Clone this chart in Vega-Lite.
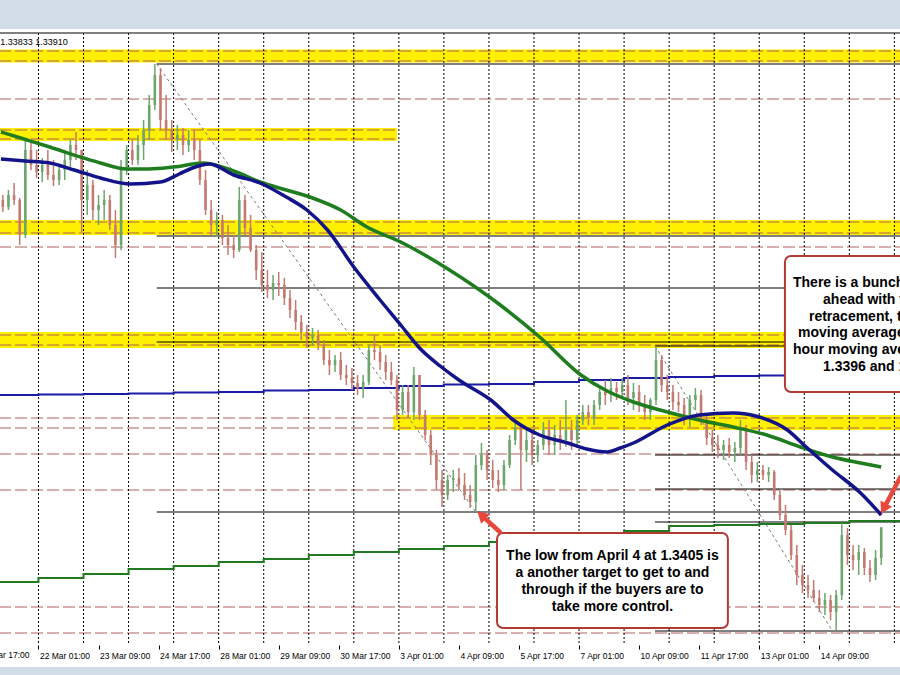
{
  "$schema": "https://vega.github.io/schema/vega-lite/v6.json",
  "width": 900,
  "height": 638,
  "autosize": {"type": "none"},
  "padding": {"left": 0, "right": 0, "top": 29, "bottom": 8},
  "background": "#d3dde9",
  "config": {"view": {"stroke": null, "fill": "#ffffff"}},
  "datasets": {
    "bars": [
      {"t":-19,"o":1.36858,"h":1.36903,"l":1.36750,"c":1.36795},
      {"t":-16,"o":1.36795,"h":1.36948,"l":1.36768,"c":1.36903},
      {"t":-13,"o":1.36903,"h":1.37011,"l":1.36813,"c":1.36858},
      {"t":-10,"o":1.36858,"h":1.36876,"l":1.36453,"c":1.36543},
      {"t":-7,"o":1.36543,"h":1.37398,"l":1.36516,"c":1.37308},
      {"t":-4,"o":1.37308,"h":1.37380,"l":1.37128,"c":1.37173},
      {"t":-1,"o":1.37173,"h":1.37308,"l":1.37056,"c":1.37110},
      {"t":2,"o":1.37110,"h":1.37236,"l":1.37020,"c":1.37173},
      {"t":5,"o":1.37173,"h":1.37308,"l":1.37038,"c":1.37083},
      {"t":8,"o":1.37083,"h":1.37218,"l":1.36984,"c":1.37038},
      {"t":11,"o":1.37038,"h":1.37173,"l":1.36993,"c":1.37128},
      {"t":14,"o":1.37128,"h":1.37308,"l":1.37038,"c":1.37218},
      {"t":17,"o":1.37218,"h":1.37398,"l":1.37128,"c":1.37353},
      {"t":20,"o":1.37353,"h":1.37470,"l":1.37218,"c":1.37308},
      {"t":23,"o":1.37308,"h":1.37308,"l":1.36570,"c":1.36858},
      {"t":26,"o":1.36858,"h":1.37128,"l":1.36723,"c":1.36993},
      {"t":29,"o":1.36993,"h":1.37038,"l":1.36678,"c":1.36768},
      {"t":32,"o":1.36768,"h":1.36903,"l":1.36633,"c":1.36813},
      {"t":35,"o":1.36813,"h":1.36948,"l":1.36678,"c":1.36858},
      {"t":38,"o":1.36858,"h":1.36903,"l":1.36588,"c":1.36633},
      {"t":41,"o":1.36633,"h":1.36768,"l":1.36336,"c":1.36453},
      {"t":44,"o":1.36453,"h":1.37218,"l":1.36408,"c":1.37128},
      {"t":47,"o":1.37128,"h":1.37353,"l":1.37083,"c":1.37308},
      {"t":50,"o":1.37308,"h":1.37398,"l":1.37173,"c":1.37218},
      {"t":53,"o":1.37218,"h":1.37443,"l":1.37173,"c":1.37353},
      {"t":56,"o":1.37353,"h":1.37578,"l":1.37218,"c":1.37488},
      {"t":59,"o":1.37488,"h":1.37803,"l":1.37398,"c":1.37713},
      {"t":62,"o":1.37713,"h":1.38082,"l":1.37668,"c":1.37983},
      {"t":65,"o":1.37983,"h":1.38046,"l":1.37488,"c":1.37578},
      {"t":68,"o":1.37578,"h":1.37803,"l":1.37398,"c":1.37488},
      {"t":71,"o":1.37488,"h":1.37578,"l":1.37290,"c":1.37398},
      {"t":74,"o":1.37398,"h":1.37533,"l":1.37308,"c":1.37443},
      {"t":77,"o":1.37443,"h":1.37506,"l":1.37263,"c":1.37353},
      {"t":80,"o":1.37353,"h":1.37488,"l":1.37290,"c":1.37398},
      {"t":83,"o":1.37398,"h":1.37488,"l":1.37218,"c":1.37308},
      {"t":86,"o":1.37308,"h":1.37398,"l":1.36993,"c":1.37038},
      {"t":89,"o":1.37038,"h":1.37128,"l":1.36723,"c":1.36768},
      {"t":92,"o":1.36768,"h":1.36858,"l":1.36543,"c":1.36633},
      {"t":95,"o":1.36633,"h":1.36750,"l":1.36525,"c":1.36678},
      {"t":98,"o":1.36678,"h":1.36723,"l":1.36453,"c":1.36516},
      {"t":101,"o":1.36516,"h":1.36633,"l":1.36363,"c":1.36453},
      {"t":104,"o":1.36453,"h":1.36543,"l":1.36336,"c":1.36408},
      {"t":107,"o":1.36408,"h":1.36975,"l":1.36390,"c":1.36858},
      {"t":110,"o":1.36858,"h":1.36903,"l":1.36543,"c":1.36606},
      {"t":113,"o":1.36606,"h":1.36723,"l":1.36390,"c":1.36408},
      {"t":116,"o":1.36408,"h":1.36453,"l":1.36138,"c":1.36228},
      {"t":119,"o":1.36228,"h":1.36390,"l":1.36030,"c":1.36093},
      {"t":122,"o":1.36093,"h":1.36228,"l":1.35976,"c":1.36048},
      {"t":125,"o":1.36048,"h":1.36183,"l":1.35958,"c":1.36111},
      {"t":128,"o":1.36111,"h":1.36210,"l":1.35994,"c":1.36093},
      {"t":131,"o":1.36093,"h":1.36156,"l":1.35913,"c":1.35976},
      {"t":134,"o":1.35976,"h":1.36048,"l":1.35796,"c":1.35868},
      {"t":137,"o":1.35868,"h":1.35958,"l":1.35688,"c":1.35760},
      {"t":140,"o":1.35760,"h":1.35823,"l":1.35598,"c":1.35670},
      {"t":143,"o":1.35670,"h":1.35733,"l":1.35526,"c":1.35616},
      {"t":146,"o":1.35616,"h":1.35706,"l":1.35544,"c":1.35643},
      {"t":149,"o":1.35643,"h":1.35688,"l":1.35508,"c":1.35553},
      {"t":152,"o":1.35553,"h":1.35598,"l":1.35373,"c":1.35418},
      {"t":155,"o":1.35418,"h":1.35508,"l":1.35283,"c":1.35373},
      {"t":158,"o":1.35373,"h":1.35463,"l":1.35310,"c":1.35418},
      {"t":161,"o":1.35418,"h":1.35490,"l":1.35238,"c":1.35283},
      {"t":164,"o":1.35283,"h":1.35373,"l":1.35193,"c":1.35256},
      {"t":167,"o":1.35256,"h":1.35346,"l":1.35148,"c":1.35211},
      {"t":170,"o":1.35211,"h":1.35283,"l":1.35103,"c":1.35166},
      {"t":173,"o":1.35166,"h":1.35283,"l":1.35076,"c":1.35220},
      {"t":176,"o":1.35220,"h":1.35553,"l":1.35193,"c":1.35508},
      {"t":179,"o":1.35508,"h":1.35643,"l":1.35418,"c":1.35490},
      {"t":182,"o":1.35490,"h":1.35553,"l":1.35328,"c":1.35400},
      {"t":185,"o":1.35400,"h":1.35463,"l":1.35238,"c":1.35310},
      {"t":188,"o":1.35310,"h":1.35400,"l":1.35193,"c":1.35238},
      {"t":191,"o":1.35238,"h":1.35283,"l":1.34878,"c":1.34968},
      {"t":194,"o":1.34968,"h":1.35193,"l":1.34923,"c":1.35130},
      {"t":197,"o":1.35130,"h":1.35193,"l":1.34896,"c":1.34950},
      {"t":200,"o":1.34950,"h":1.35355,"l":1.34878,"c":1.35283},
      {"t":203,"o":1.35283,"h":1.35283,"l":1.34878,"c":1.34923},
      {"t":206,"o":1.34923,"h":1.34968,"l":1.34698,"c":1.34743},
      {"t":209,"o":1.34743,"h":1.34788,"l":1.34473,"c":1.34563},
      {"t":212,"o":1.34563,"h":1.34608,"l":1.34248,"c":1.34338},
      {"t":215,"o":1.34338,"h":1.34428,"l":1.34095,"c":1.34203},
      {"t":218,"o":1.34203,"h":1.34383,"l":1.34158,"c":1.34338},
      {"t":221,"o":1.34338,"h":1.34428,"l":1.34230,"c":1.34356},
      {"t":224,"o":1.34356,"h":1.34446,"l":1.34248,"c":1.34293},
      {"t":227,"o":1.34293,"h":1.34401,"l":1.34158,"c":1.34203},
      {"t":230,"o":1.34203,"h":1.34293,"l":1.34086,"c":1.34140},
      {"t":233,"o":1.34140,"h":1.34563,"l":1.34050,"c":1.34473},
      {"t":236,"o":1.34473,"h":1.34671,"l":1.34428,"c":1.34563},
      {"t":239,"o":1.34563,"h":1.34608,"l":1.34338,"c":1.34428},
      {"t":242,"o":1.34428,"h":1.34518,"l":1.34266,"c":1.34338},
      {"t":245,"o":1.34338,"h":1.34428,"l":1.34230,"c":1.34293},
      {"t":248,"o":1.34293,"h":1.34518,"l":1.34248,"c":1.34473},
      {"t":251,"o":1.34473,"h":1.34743,"l":1.34446,"c":1.34698},
      {"t":254,"o":1.34698,"h":1.34860,"l":1.34653,"c":1.34806},
      {"t":257,"o":1.34806,"h":1.34833,"l":1.34248,"c":1.34608},
      {"t":260,"o":1.34608,"h":1.34788,"l":1.34500,"c":1.34698},
      {"t":263,"o":1.34698,"h":1.34788,"l":1.34473,"c":1.34563},
      {"t":266,"o":1.34563,"h":1.34698,"l":1.34500,"c":1.34653},
      {"t":269,"o":1.34653,"h":1.34860,"l":1.34608,"c":1.34788},
      {"t":272,"o":1.34788,"h":1.34878,"l":1.34563,"c":1.34653},
      {"t":275,"o":1.34653,"h":1.34833,"l":1.34563,"c":1.34743},
      {"t":278,"o":1.34743,"h":1.34878,"l":1.34608,"c":1.34698},
      {"t":281,"o":1.34698,"h":1.35058,"l":1.34635,"c":1.34788},
      {"t":284,"o":1.34788,"h":1.34878,"l":1.34608,"c":1.34698},
      {"t":287,"o":1.34698,"h":1.34923,"l":1.34626,"c":1.34878},
      {"t":290,"o":1.34878,"h":1.35013,"l":1.34833,"c":1.34950},
      {"t":293,"o":1.34950,"h":1.35013,"l":1.34833,"c":1.34896},
      {"t":296,"o":1.34896,"h":1.35058,"l":1.34833,"c":1.35013},
      {"t":299,"o":1.35013,"h":1.35193,"l":1.34968,"c":1.35130},
      {"t":302,"o":1.35130,"h":1.35238,"l":1.35013,"c":1.35103},
      {"t":305,"o":1.35103,"h":1.35256,"l":1.35040,"c":1.35166},
      {"t":308,"o":1.35166,"h":1.35220,"l":1.35058,"c":1.35130},
      {"t":311,"o":1.35130,"h":1.35256,"l":1.35076,"c":1.35193},
      {"t":314,"o":1.35193,"h":1.35283,"l":1.35013,"c":1.35076},
      {"t":317,"o":1.35076,"h":1.35211,"l":1.34968,"c":1.35130},
      {"t":320,"o":1.35130,"h":1.35193,"l":1.34950,"c":1.35013},
      {"t":323,"o":1.35013,"h":1.35103,"l":1.34878,"c":1.34950},
      {"t":326,"o":1.34950,"h":1.35076,"l":1.34878,"c":1.35058},
      {"t":329,"o":1.35058,"h":1.35544,"l":1.35013,"c":1.35418},
      {"t":332,"o":1.35418,"h":1.35463,"l":1.35130,"c":1.35193},
      {"t":335,"o":1.35193,"h":1.35283,"l":1.35058,"c":1.35130},
      {"t":338,"o":1.35130,"h":1.35193,"l":1.34968,"c":1.35040},
      {"t":341,"o":1.35040,"h":1.35130,"l":1.34950,"c":1.35013},
      {"t":344,"o":1.35013,"h":1.35076,"l":1.34833,"c":1.34923},
      {"t":347,"o":1.34923,"h":1.35103,"l":1.34815,"c":1.35058},
      {"t":350,"o":1.35058,"h":1.35166,"l":1.34968,"c":1.35103},
      {"t":353,"o":1.35103,"h":1.35148,"l":1.34833,"c":1.34878},
      {"t":356,"o":1.34878,"h":1.34923,"l":1.34653,"c":1.34716},
      {"t":359,"o":1.34716,"h":1.34788,"l":1.34590,"c":1.34653},
      {"t":362,"o":1.34653,"h":1.34743,"l":1.34536,"c":1.34608},
      {"t":365,"o":1.34608,"h":1.34698,"l":1.34518,"c":1.34653},
      {"t":368,"o":1.34653,"h":1.34716,"l":1.34536,"c":1.34590},
      {"t":371,"o":1.34590,"h":1.34680,"l":1.34500,"c":1.34626},
      {"t":374,"o":1.34626,"h":1.34878,"l":1.34563,"c":1.34788},
      {"t":377,"o":1.34788,"h":1.34833,"l":1.34428,"c":1.34500},
      {"t":380,"o":1.34500,"h":1.34563,"l":1.34311,"c":1.34383},
      {"t":383,"o":1.34383,"h":1.34500,"l":1.34320,"c":1.34428},
      {"t":386,"o":1.34428,"h":1.34473,"l":1.34338,"c":1.34383},
      {"t":389,"o":1.34383,"h":1.34455,"l":1.34320,"c":1.34410},
      {"t":392,"o":1.34410,"h":1.34428,"l":1.34158,"c":1.34203},
      {"t":395,"o":1.34203,"h":1.34248,"l":1.33978,"c":1.34023},
      {"t":398,"o":1.34023,"h":1.34113,"l":1.33843,"c":1.33888},
      {"t":401,"o":1.33888,"h":1.33933,"l":1.33618,"c":1.33663},
      {"t":404,"o":1.33663,"h":1.33753,"l":1.33393,"c":1.33483},
      {"t":407,"o":1.33483,"h":1.33573,"l":1.33321,"c":1.33393},
      {"t":410,"o":1.33393,"h":1.33483,"l":1.33276,"c":1.33348},
      {"t":413,"o":1.33348,"h":1.33438,"l":1.33240,"c":1.33276},
      {"t":416,"o":1.33276,"h":1.33348,"l":1.33150,"c":1.33213},
      {"t":419,"o":1.33213,"h":1.33321,"l":1.33123,"c":1.33258},
      {"t":422,"o":1.33258,"h":1.33303,"l":1.33078,"c":1.33150},
      {"t":425,"o":1.33150,"h":1.33348,"l":1.32988,"c":1.33303},
      {"t":428,"o":1.33303,"h":1.33951,"l":1.33258,"c":1.33843},
      {"t":431,"o":1.33843,"h":1.33906,"l":1.33573,"c":1.33663},
      {"t":434,"o":1.33663,"h":1.33753,"l":1.33528,"c":1.33618},
      {"t":437,"o":1.33618,"h":1.33753,"l":1.33483,"c":1.33690},
      {"t":440,"o":1.33690,"h":1.33726,"l":1.33483,"c":1.33546},
      {"t":443,"o":1.33546,"h":1.33618,"l":1.33420,"c":1.33483},
      {"t":446,"o":1.33483,"h":1.33708,"l":1.33438,"c":1.33636},
      {"t":449,"o":1.33636,"h":1.33915,"l":1.33573,"c":1.33910}
    ],
    "ma100": [
      {"t":-20,"p":1.37227},{"t":-7,"p":1.37209},{"t":6,"p":1.37191},{"t":19,"p":1.37128},
      {"t":33,"p":1.37056},{"t":49,"p":1.37002},{"t":65,"p":1.37020},{"t":75,"p":1.37092},
      {"t":82,"p":1.37146},{"t":91,"p":1.37182},{"t":104,"p":1.37083},{"t":118,"p":1.37011},
      {"t":132,"p":1.36885},{"t":143,"p":1.36768},{"t":154,"p":1.36588},{"t":168,"p":1.36255},
      {"t":182,"p":1.35958},{"t":193,"p":1.35733},{"t":203,"p":1.35526},{"t":214,"p":1.35364},
      {"t":224,"p":1.35238},{"t":241,"p":1.35058},{"t":253,"p":1.34878},{"t":267,"p":1.34743},
      {"t":282,"p":1.34671},{"t":292,"p":1.34617},{"t":303,"p":1.34590},{"t":310,"p":1.34626},
      {"t":317,"p":1.34671},{"t":335,"p":1.34833},{"t":352,"p":1.34923},{"t":370,"p":1.34941},
      {"t":384,"p":1.34905},{"t":399,"p":1.34788},{"t":409,"p":1.34635},{"t":423,"p":1.34428},
      {"t":438,"p":1.34221},{"t":449,"p":1.34023}
    ],
    "ma200": [
      {"t":-20,"p":1.37470},{"t":-6,"p":1.37398},{"t":6,"p":1.37335},{"t":24,"p":1.37236},
      {"t":33,"p":1.37191},{"t":47,"p":1.37137},{"t":59,"p":1.37137},{"t":72,"p":1.37155},
      {"t":88,"p":1.37191},{"t":104,"p":1.37119},{"t":118,"p":1.37020},{"t":132,"p":1.36948},
      {"t":146,"p":1.36876},{"t":161,"p":1.36768},{"t":175,"p":1.36615},{"t":193,"p":1.36480},
      {"t":219,"p":1.36228},{"t":246,"p":1.35913},{"t":267,"p":1.35625},{"t":289,"p":1.35283},
      {"t":303,"p":1.35139},{"t":317,"p":1.35040},{"t":335,"p":1.34950},{"t":352,"p":1.34878},
      {"t":370,"p":1.34815},{"t":388,"p":1.34743},{"t":406,"p":1.34635},{"t":423,"p":1.34545},
      {"t":438,"p":1.34491},{"t":449,"p":1.34455}
    ],
    "daily100": [
      {"t":-24,"p":1.35103},{"t":0,"p":1.35108},{"t":24,"p":1.35112},{"t":48,"p":1.35117},
      {"t":72,"p":1.35126},{"t":96,"p":1.35130},{"t":120,"p":1.35144},{"t":144,"p":1.35148},
      {"t":168,"p":1.35166},{"t":192,"p":1.35184},{"t":216,"p":1.35198},{"t":240,"p":1.35202},
      {"t":264,"p":1.35220},{"t":288,"p":1.35238},{"t":312,"p":1.35256},{"t":336,"p":1.35265},
      {"t":360,"p":1.35274},{"t":384,"p":1.35279},{"t":408,"p":1.35283},{"t":432,"p":1.35288},
      {"t":456,"p":1.35292},{"t":462,"p":1.35292}
    ],
    "daily200": [
      {"t":-24,"p":1.33420},{"t":0,"p":1.33456},{"t":24,"p":1.33492},{"t":48,"p":1.33537},
      {"t":72,"p":1.33564},{"t":96,"p":1.33600},{"t":120,"p":1.33627},{"t":144,"p":1.33663},
      {"t":168,"p":1.33690},{"t":192,"p":1.33717},{"t":216,"p":1.33744},{"t":240,"p":1.33780},
      {"t":264,"p":1.33807},{"t":288,"p":1.33843},{"t":312,"p":1.33879},{"t":336,"p":1.33924},
      {"t":360,"p":1.33933},{"t":384,"p":1.33942},{"t":408,"p":1.33951},{"t":432,"p":1.33969},
      {"t":456,"p":1.33969},{"t":462,"p":1.33969}
    ],
    "zones": [
      {"p1":1.38213,"p2":1.38096,"t0":-21,"t1":462},
      {"p1":1.37506,"p2":1.37389,"t0":-21,"t1":191},
      {"p1":1.36678,"p2":1.36543,"t0":-21,"t1":462},
      {"p1":1.35670,"p2":1.35526,"t0":-21,"t1":462},
      {"p1":1.34923,"p2":1.34788,"t0":189,"t1":462}
    ],
    "levels": [
      {"p":1.38199,"t0":-21,"t1":462},
      {"p":1.38109,"t0":-21,"t1":462},
      {"p":1.37767,"t0":-21,"t1":462},
      {"p":1.37488,"t0":-21,"t1":191},
      {"p":1.37407,"t0":-21,"t1":191},
      {"p":1.36660,"t0":-21,"t1":462},
      {"p":1.36561,"t0":-21,"t1":462},
      {"p":1.36435,"t0":-21,"t1":462},
      {"p":1.35643,"t0":-21,"t1":462},
      {"p":1.35553,"t0":-21,"t1":462},
      {"p":1.34896,"t0":-21,"t1":462},
      {"p":1.34806,"t0":-21,"t1":462},
      {"p":1.34572,"t0":-21,"t1":462},
      {"p":1.34248,"t0":-21,"t1":462},
      {"p":1.33195,"t0":-21,"t1":462},
      {"p":1.32961,"t0":-21,"t1":462}
    ],
    "fibs": [
      {"p":1.38082,"t0":63,"t1":462},{"p":1.36534,"t0":63,"t1":462},{"p":1.36066,"t0":63,"t1":462},
      {"p":1.35580,"t0":63,"t1":462},{"p":1.34050,"t0":63,"t1":462},
      {"p":1.35544,"t0":328.5,"t1":462},{"p":1.34563,"t0":328.5,"t1":462},{"p":1.34257,"t0":328.5,"t1":462},
      {"p":1.33960,"t0":328.5,"t1":462},{"p":1.32979,"t0":328.5,"t1":462}
    ],
    "swings": [
      {"id":"march","t":63,"p":1.38082},{"id":"march","t":233,"p":1.34050},
      {"id":"april","t":328.5,"p":1.35544},{"id":"april","t":423,"p":1.32979}
    ],
    "days": [
      {"t":0},{"t":24},{"t":48},{"t":72},{"t":96},{"t":120},{"t":144},{"t":168},{"t":192},
      {"t":216},{"t":240},{"t":264},{"t":288},{"t":312},{"t":336},{"t":360},{"t":384},
      {"t":408},{"t":432},{"t":456}
    ],
    "frame": [{"p":1.38361}],
    "edgeLabel": [{"t":-32,"s":"21 Mar 17:00"}],
    "boxes": [
      {"t0":397.7,"t1":480,"p1":1.36354,"p2":1.35130},
      {"t0":244.3,"t1":367.3,"p1":1.33861,"p2":1.33006}
    ],
    "noteRight": [
      {"t":402.0,"p":1.36075,"s":"There is a bunch of resistance"},
      {"t":418.0,"p":1.35922,"s":"ahead with the 38.2%"},
      {"t":410.5,"p":1.35769,"s":"retracement, the 100 hour"},
      {"t":404.7,"p":1.35621,"s":"moving average and the 200"},
      {"t":402.0,"p":1.35468,"s":"hour moving average between"},
      {"t":418.0,"p":1.35319,"s":"1.3396 and 1.3407."}
    ],
    "noteLow": [
      {"t":305.8,"p":1.33618,"s":"The low from April 4 at 1.3405 is"},
      {"t":305.8,"p":1.33465,"s":"a another target to get to and"},
      {"t":305.8,"p":1.33312,"s":"through if the buyers are to"},
      {"t":305.8,"p":1.33159,"s":"take more control."}
    ],
    "arrows": [
      {"id":"low","t":246.4,"p":1.33861},{"id":"low","t":236.0,"p":1.34022},
      {"id":"ma","t":459.5,"p":1.34374},{"id":"ma","t":450.3,"p":1.34080}
    ],
    "headLow": [{"t":236.0,"p":1.34022}],
    "headMa": [{"t":450.3,"p":1.34080}],
    "quote": [{"t":-20.4,"p":1.38253,"s":"1.33833 1.33910"}]
  },
  "layer": [
    {
      "data": {"name": "zones"},
      "mark": {"type": "rect", "color": "#fff000", "clip": true},
      "encoding": {
        "x": {
          "field": "t0", "type": "quantitative",
          "scale": {"domain": [-20.5, 459], "nice": false, "zero": false},
          "axis": {
            "orient": "bottom", "offset": -22, "title": null, "domain": false, "grid": false,
            "values": [0, 32, 64, 96, 128, 160, 192, 224, 256, 288, 320, 352, 384, 416],
            "labelExpr": "['22 Mar 01:00','23 Mar 09:00','24 Mar 17:00','28 Mar 01:00','29 Mar 09:00','30 Mar 17:00','3 Apr 01:00','4 Apr 09:00','5 Apr 17:00','7 Apr 01:00','10 Apr 09:00','11 Apr 17:00','13 Apr 01:00','14 Apr 09:00'][datum.value / 32]",
            "ticks": true, "tickColor": "#000000", "tickSize": 4, "tickWidth": 1,
            "labelAlign": "left", "labelBaseline": "top", "labelPadding": 2, "labelOffset": 1,
            "labelFont": "Liberation Sans", "labelFontSize": 8.5, "labelColor": "#000000",
            "labelFlush": false, "labelOverlap": false, "labelBound": false
          }
        },
        "x2": {"field": "t1"},
        "y": {"field": "p1", "type": "quantitative", "scale": {"domain": [1.32655, 1.38397], "nice": false, "zero": false}, "axis": null},
        "y2": {"field": "p2"}
      }
    },
    {
      "data": {"name": "levels"},
      "mark": {"type": "rule", "color": "#b0605a", "strokeWidth": 1, "strokeDash": [12, 4], "clip": true},
      "encoding": {
        "x": {"field": "t0", "type": "quantitative"},
        "x2": {"field": "t1"},
        "y": {"field": "p", "type": "quantitative", "axis": null}
      }
    },
    {
      "data": {"name": "days"},
      "mark": {"type": "rule", "color": "#000000", "strokeWidth": 1, "strokeDash": [2, 2], "clip": true},
      "encoding": {
        "x": {"field": "t", "type": "quantitative"},
        "y": {"datum": 1.38361, "type": "quantitative", "axis": null},
        "y2": {"datum": 1.32853}
      }
    },
    {
      "data": {"name": "fibs"},
      "mark": {"type": "rule", "color": "#000000", "strokeWidth": 1, "clip": true},
      "encoding": {
        "x": {"field": "t0", "type": "quantitative"},
        "x2": {"field": "t1"},
        "y": {"field": "p", "type": "quantitative", "axis": null}
      }
    },
    {
      "data": {"name": "swings"},
      "mark": {"type": "line", "color": "#7a7a7a", "strokeWidth": 1, "strokeDash": [3, 3], "clip": true},
      "encoding": {
        "x": {"field": "t", "type": "quantitative"},
        "y": {"field": "p", "type": "quantitative", "axis": null},
        "detail": {"field": "id"}
      }
    },
    {
      "data": {"name": "daily100"},
      "mark": {"type": "line", "color": "#1b1ba6", "strokeWidth": 2, "interpolate": "step-after", "clip": true},
      "encoding": {
        "x": {"field": "t", "type": "quantitative"},
        "y": {"field": "p", "type": "quantitative", "axis": null}
      }
    },
    {
      "data": {"name": "daily200"},
      "mark": {"type": "line", "color": "#207a20", "strokeWidth": 2, "interpolate": "step-after", "clip": true},
      "encoding": {
        "x": {"field": "t", "type": "quantitative"},
        "y": {"field": "p", "type": "quantitative", "axis": null}
      }
    },
    {
      "data": {"name": "bars"},
      "mark": {"type": "rule", "strokeWidth": 1.5, "clip": true},
      "encoding": {
        "x": {"field": "t", "type": "quantitative"},
        "y": {"field": "l", "type": "quantitative", "axis": null},
        "y2": {"field": "h"},
        "color": {"condition": {"test": "datum.c >= datum.o", "value": "#6da66d"}, "value": "#c47a70"}
      }
    },
    {
      "data": {"name": "bars"},
      "mark": {"type": "rule", "strokeWidth": 2.6, "clip": true},
      "encoding": {
        "x": {"field": "t", "type": "quantitative"},
        "y": {"field": "o", "type": "quantitative", "axis": null},
        "y2": {"field": "c"},
        "color": {"condition": {"test": "datum.c >= datum.o", "value": "#6da66d"}, "value": "#c47a70"}
      }
    },
    {
      "data": {"name": "ma200"},
      "mark": {"type": "line", "color": "#1f7d1f", "strokeWidth": 3.5, "interpolate": "monotone", "clip": true},
      "encoding": {
        "x": {"field": "t", "type": "quantitative"},
        "y": {"field": "p", "type": "quantitative", "axis": null}
      }
    },
    {
      "data": {"name": "ma100"},
      "mark": {"type": "line", "color": "#14148a", "strokeWidth": 3.5, "interpolate": "monotone", "clip": true},
      "encoding": {
        "x": {"field": "t", "type": "quantitative"},
        "y": {"field": "p", "type": "quantitative", "axis": null}
      }
    },
    {
      "data": {"name": "boxes"},
      "mark": {"type": "rect", "fill": "#ffffff", "stroke": "#b23a34", "strokeWidth": 2, "cornerRadius": 6},
      "encoding": {
        "x": {"field": "t0", "type": "quantitative"},
        "x2": {"field": "t1"},
        "y": {"field": "p1", "type": "quantitative", "axis": null},
        "y2": {"field": "p2"}
      }
    },
    {
      "data": {"name": "noteRight"},
      "mark": {"type": "text", "align": "left", "baseline": "alphabetic", "font": "Liberation Sans", "fontSize": 14, "fontWeight": "bold", "color": "#000000"},
      "encoding": {
        "x": {"field": "t", "type": "quantitative"},
        "y": {"field": "p", "type": "quantitative", "axis": null},
        "text": {"field": "s"}
      }
    },
    {
      "data": {"name": "noteLow"},
      "mark": {"type": "text", "align": "center", "baseline": "alphabetic", "font": "Liberation Sans", "fontSize": 14, "fontWeight": "bold", "color": "#000000"},
      "encoding": {
        "x": {"field": "t", "type": "quantitative"},
        "y": {"field": "p", "type": "quantitative", "axis": null},
        "text": {"field": "s"}
      }
    },
    {
      "data": {"name": "arrows"},
      "mark": {"type": "line", "color": "#e8473c", "strokeWidth": 4.5, "strokeCap": "butt"},
      "encoding": {
        "x": {"field": "t", "type": "quantitative"},
        "y": {"field": "p", "type": "quantitative", "axis": null},
        "detail": {"field": "id"}
      }
    },
    {
      "data": {"name": "headLow"},
      "mark": {"type": "point", "shape": "triangle-up", "filled": true, "size": 170, "angle": 312.6, "color": "#e8473c", "opacity": 1},
      "encoding": {
        "x": {"field": "t", "type": "quantitative"},
        "y": {"field": "p", "type": "quantitative", "axis": null}
      }
    },
    {
      "data": {"name": "headMa"},
      "mark": {"type": "point", "shape": "triangle-up", "filled": true, "size": 170, "angle": 208, "color": "#e8473c", "opacity": 1},
      "encoding": {
        "x": {"field": "t", "type": "quantitative"},
        "y": {"field": "p", "type": "quantitative", "axis": null}
      }
    },
    {
      "data": {"name": "quote"},
      "mark": {"type": "text", "align": "left", "baseline": "alphabetic", "font": "Liberation Sans", "fontSize": 9, "color": "#000000"},
      "encoding": {
        "x": {"field": "t", "type": "quantitative"},
        "y": {"field": "p", "type": "quantitative", "axis": null},
        "text": {"field": "s"}
      }
    },
    {
      "data": {"name": "edgeLabel"},
      "mark": {"type": "text", "align": "left", "baseline": "top", "dx": 1, "font": "Liberation Sans", "fontSize": 8.5, "color": "#000000"},
      "encoding": {
        "x": {"field": "t", "type": "quantitative"},
        "y": {"datum": 1.32799, "type": "quantitative", "axis": null},
        "text": {"field": "s"}
      }
    },
    {
      "data": {"name": "frame"},
      "mark": {"type": "rule", "color": "#000000", "strokeWidth": 1},
      "encoding": {
        "y": {"field": "p", "type": "quantitative", "axis": null}
      }
    }
  ]
}
